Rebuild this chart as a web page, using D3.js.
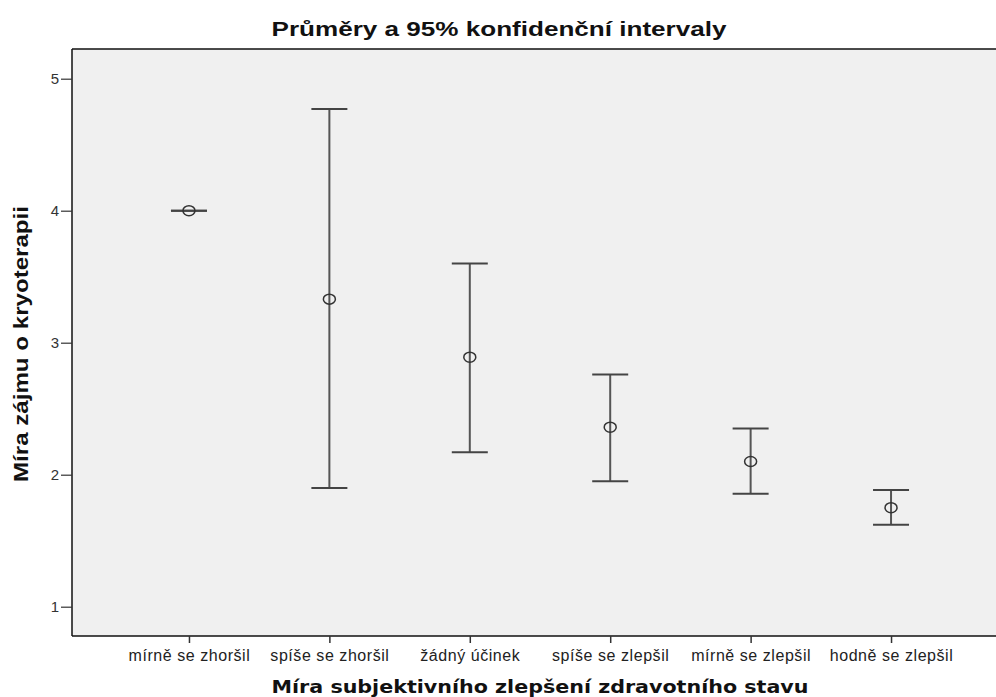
<!DOCTYPE html>
<html>
<head>
<meta charset="utf-8">
<script src="https://cdn.jsdelivr.net/npm/d3@7"></script>
<style>
  body { margin: 0; background: #ffffff; }
  svg { display: block; }
</style>
</head>
<body>
<div id="vis"></div>
<script>
var width = 996;
var height = 697;

var categories = ["mírně se zhoršil", "spíše se zhoršil", "žádný účinek",
                  "spíše se zlepšil", "mírně se zlepšil", "hodně se zlepšil"];
var means = [4.00, 3.33, 2.89, 2.36, 2.10, 1.75];
var lower = [4.00, 1.90, 2.17, 1.95, 1.855, 1.62];
var upper = [4.00, 4.77, 3.60, 2.76, 2.35, 1.885];
var yTicks = [1, 2, 3, 4, 5];

var titleText = "Průměry a 95% konfidenční intervaly";
var yTitle = "Míra zájmu o kryoterapii";
var xTitle = "Míra subjektivního zlepšení zdravotního stavu";

var narrow = "'Liberation Sans Narrow', 'Arial Narrow', 'Liberation Sans', Arial, sans-serif";
var plain = "'Liberation Sans', Arial, sans-serif";

var plot = {left: 72, top: 49, right: 1008, bottom: 636};

var svg = d3.select('#vis').append('svg')
    .attr("width", width)
    .attr("height", height);

var x = d3.scalePoint()
    .domain(categories)
    .range([plot.left, plot.right])
    .padding(0.833);

var y = d3.scaleLinear()
    .domain([0.778, 5.225])
    .range([plot.bottom, plot.top]);

// plot background
svg.append("rect")
    .attr("x", plot.left)
    .attr("y", plot.top)
    .attr("width", plot.right - plot.left)
    .attr("height", plot.bottom - plot.top)
    .attr("fill", "#f0f0f0");

// top border
svg.append("line")
    .attr("x1", plot.left).attr("x2", width)
    .attr("y1", plot.top).attr("y2", plot.top)
    .attr("stroke", "#111").attr("stroke-width", 1.5);

// y axis
var yAxis = svg.append("g")
    .attr("transform", "translate(" + plot.left + ",0)")
    .call(d3.axisLeft(y).tickValues(yTicks).tickFormat(d3.format("d")).tickSize(11).tickPadding(2));
yAxis.select(".domain").attr("stroke", "#111").attr("stroke-width", 1.5)
    .attr("d", "M0," + plot.top + "V" + plot.bottom);
yAxis.selectAll(".tick line").attr("stroke", "#333").attr("stroke-width", 1.2);
yAxis.selectAll(".tick text")
    .attr("font-family", plain).attr("font-size", 15).attr("fill", "#333");

// x axis
var xAxis = svg.append("g")
    .attr("transform", "translate(0," + plot.bottom + ")")
    .call(d3.axisBottom(x).tickSize(7).tickPadding(7));
xAxis.select(".domain").attr("stroke", "#111").attr("stroke-width", 1.5)
    .attr("d", "M" + plot.left + ",0H" + width);
xAxis.selectAll(".tick line").attr("stroke", "#333").attr("stroke-width", 1.5);
xAxis.selectAll(".tick text")
    .attr("font-family", plain).attr("font-size", 16)
    .attr("letter-spacing", 0.55).attr("fill", "#222");

// error bars
var capW = 36;
var bars = svg.append("g").selectAll("g")
    .data(categories)
    .enter().append("g");

bars.append("line")
    .attr("x1", function(d){ return x(d); })
    .attr("x2", function(d){ return x(d); })
    .attr("y1", function(d, i){ return y(upper[i]); })
    .attr("y2", function(d, i){ return y(lower[i]); })
    .attr("stroke", "#555").attr("stroke-width", 2);

bars.append("line")
    .attr("x1", function(d){ return x(d) - capW / 2; })
    .attr("x2", function(d){ return x(d) + capW / 2; })
    .attr("y1", function(d, i){ return y(upper[i]); })
    .attr("y2", function(d, i){ return y(upper[i]); })
    .attr("stroke", "#444").attr("stroke-width", 2);

bars.append("line")
    .attr("x1", function(d){ return x(d) - capW / 2; })
    .attr("x2", function(d){ return x(d) + capW / 2; })
    .attr("y1", function(d, i){ return y(lower[i]); })
    .attr("y2", function(d, i){ return y(lower[i]); })
    .attr("stroke", "#444").attr("stroke-width", 2);

bars.append("ellipse")
    .attr("cx", function(d){ return x(d); })
    .attr("cy", function(d, i){ return y(means[i]); })
    .attr("rx", 6).attr("ry", 5)
    .attr("fill", "none")
    .attr("stroke", "#333").attr("stroke-width", 1.5);

// titles
svg.append("text")
    .attr("x", 499).attr("y", 36)
    .attr("text-anchor", "middle")
    .attr("font-family", narrow).attr("font-weight", "bold")
    .attr("font-size", 21).attr("fill", "#111")
    .attr("textLength", 455).attr("lengthAdjust", "spacingAndGlyphs")
    .text(titleText);

svg.append("text")
    .attr("transform", "translate(28,344) rotate(-90)")
    .attr("text-anchor", "middle")
    .attr("font-family", narrow).attr("font-weight", "bold")
    .attr("font-size", 21).attr("fill", "#111")
    .attr("textLength", 276).attr("lengthAdjust", "spacingAndGlyphs")
    .text(yTitle);

svg.append("text")
    .attr("x", 540).attr("y", 693)
    .attr("text-anchor", "middle")
    .attr("font-family", "'DejaVu Sans', Verdana, sans-serif").attr("font-weight", "bold")
    .attr("font-size", 18).attr("fill", "#111")
    .attr("textLength", 537).attr("lengthAdjust", "spacingAndGlyphs")
    .text(xTitle);
</script>
</body>
</html>
